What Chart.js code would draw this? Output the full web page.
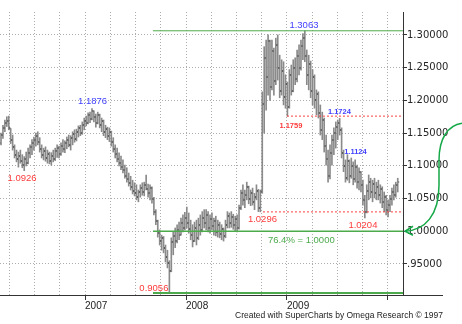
<!DOCTYPE html>
<html>
<head>
<meta charset="utf-8">
<script src="https://cdn.jsdelivr.net/npm/chart.js@4.4.1/dist/chart.umd.min.js"></script>
<style>
  html, body { margin: 0; padding: 0; background: #fff; }
  canvas { display: block; }
</style>
</head>
<body>
<canvas id="chart" width="462" height="324"></canvas>
<script>
// weekly bars, first bar in early March 2006 (fractional year)
const firstWeek = 2006.168;

const opens = [
  1.135, 1.147, 1.158, 1.165, 1.168, 1.157, 1.140, 1.128, 1.117, 1.110,
  1.115, 1.108, 1.101, 1.110, 1.104, 1.120, 1.128, 1.135, 1.140, 1.146,
  1.137, 1.126, 1.116, 1.122, 1.112, 1.118, 1.108, 1.115, 1.110, 1.122,
  1.127, 1.118, 1.131, 1.126, 1.135, 1.140, 1.132, 1.142, 1.148, 1.141,
  1.152, 1.157, 1.150, 1.163, 1.169, 1.165, 1.177, 1.171, 1.183, 1.174,
  1.165, 1.178, 1.162, 1.169, 1.151, 1.156, 1.146, 1.152, 1.136, 1.125,
  1.118, 1.110, 1.105, 1.098, 1.094, 1.085, 1.080, 1.073, 1.067, 1.062,
  1.058, 1.052, 1.060, 1.066, 1.060, 1.070, 1.065, 1.058, 1.066, 1.050,
  1.030, 1.015, 0.997, 0.985, 0.990, 0.975, 0.960, 0.952, 0.940, 0.983,
  0.992, 0.985, 1.002, 0.995, 1.012, 1.005, 1.020, 1.012, 1.003, 0.994,
  0.985, 1.005, 0.990, 1.010, 1.002, 1.020, 1.012, 1.025, 1.005, 1.018,
  1.008, 1.015, 0.999, 1.010, 0.996, 1.004, 0.992, 1.010, 1.024, 1.012,
  1.022, 1.010, 1.018, 1.005, 1.035, 1.058, 1.048, 1.055, 1.068, 1.050,
  1.058, 1.045, 1.052, 1.062, 1.035, 1.062, 1.195, 1.265, 1.235, 1.290,
  1.220, 1.275, 1.230, 1.285, 1.250, 1.215, 1.245, 1.205, 1.225, 1.190,
  1.238, 1.215, 1.250, 1.232, 1.268, 1.250, 1.283, 1.295, 1.268, 1.238,
  1.255, 1.215, 1.235, 1.200, 1.210, 1.180, 1.155, 1.170, 1.130, 1.110,
  1.085, 1.120, 1.140, 1.150, 1.160, 1.165, 1.155, 1.120, 1.100, 1.082,
  1.108, 1.085, 1.100, 1.080, 1.098, 1.075, 1.090, 1.070, 1.048, 1.030,
  1.062, 1.075, 1.060, 1.072, 1.058, 1.068, 1.055, 1.065, 1.045, 1.052,
  1.032, 1.040, 1.050, 1.060, 1.055, 1.070
];
const highs = [
  1.150, 1.162, 1.170, 1.175, 1.176, 1.157, 1.147, 1.132, 1.124, 1.121,
  1.124, 1.117, 1.114, 1.121, 1.127, 1.132, 1.140, 1.144, 1.150, 1.152,
  1.143, 1.132, 1.127, 1.129, 1.124, 1.121, 1.120, 1.124, 1.127, 1.132,
  1.130, 1.135, 1.140, 1.138, 1.144, 1.147, 1.146, 1.152, 1.155, 1.156,
  1.161, 1.162, 1.167, 1.173, 1.176, 1.181, 1.182, 1.1876, 1.184, 1.179,
  1.182, 1.179, 1.173, 1.170, 1.162, 1.159, 1.158, 1.153, 1.143, 1.132,
  1.127, 1.120, 1.115, 1.109, 1.101, 1.097, 1.089, 1.084, 1.078, 1.074,
  1.071, 1.063, 1.071, 1.074, 1.075, 1.086, 1.072, 1.071, 1.068, 1.052,
  1.033, 1.017, 1.002, 0.994, 0.992, 0.979, 0.971, 0.955, 0.990, 0.999,
  1.005, 1.010, 1.014, 1.020, 1.025, 1.029, 1.037, 1.028, 1.017, 1.010,
  1.014, 1.017, 1.020, 1.025, 1.030, 1.033, 1.033, 1.030, 1.025, 1.028,
  1.020, 1.023, 1.017, 1.014, 1.010, 1.005, 1.017, 1.030, 1.028, 1.030,
  1.026, 1.023, 1.025, 1.040, 1.063, 1.071, 1.063, 1.075, 1.069, 1.063,
  1.066, 1.058, 1.071, 1.064, 1.063, 1.213, 1.282, 1.292, 1.300, 1.292,
  1.292, 1.280, 1.295, 1.300, 1.269, 1.262, 1.259, 1.239, 1.228, 1.247,
  1.254, 1.262, 1.265, 1.277, 1.285, 1.292, 1.302, 1.3063, 1.277, 1.269,
  1.260, 1.247, 1.239, 1.216, 1.213, 1.193, 1.182, 1.173, 1.147, 1.124,
  1.132, 1.147, 1.158, 1.167, 1.170, 1.1724, 1.158, 1.124, 1.109, 1.117,
  1.109, 1.112, 1.106, 1.109, 1.101, 1.097, 1.091, 1.078, 1.055, 1.071,
  1.086, 1.081, 1.078, 1.081, 1.075, 1.078, 1.071, 1.068, 1.060, 1.055,
  1.048, 1.055, 1.066, 1.071, 1.075, 1.081
];
const lows = [
  1.132, 1.142, 1.152, 1.160, 1.155, 1.134, 1.124, 1.112, 1.106, 1.098,
  1.104, 1.097, 1.0926, 1.100, 1.103, 1.112, 1.117, 1.124, 1.130, 1.132,
  1.121, 1.112, 1.109, 1.107, 1.104, 1.103, 1.101, 1.106, 1.108, 1.113,
  1.112, 1.116, 1.121, 1.120, 1.126, 1.129, 1.124, 1.132, 1.136, 1.138,
  1.144, 1.146, 1.148, 1.155, 1.161, 1.164, 1.166, 1.170, 1.167, 1.159,
  1.164, 1.158, 1.152, 1.146, 1.143, 1.140, 1.137, 1.130, 1.121, 1.112,
  1.106, 1.100, 1.094, 1.089, 1.081, 1.075, 1.069, 1.063, 1.057, 1.054,
  1.048, 1.045, 1.052, 1.055, 1.054, 1.063, 1.052, 1.048, 1.043, 1.025,
  1.010, 0.991, 0.979, 0.971, 0.967, 0.953, 0.944, 0.9056, 0.938, 0.964,
  0.975, 0.982, 0.987, 0.994, 0.999, 1.002, 1.005, 0.997, 0.987, 0.976,
  0.984, 0.979, 0.987, 0.994, 0.999, 1.005, 1.002, 0.999, 0.997, 1.002,
  0.994, 0.993, 0.991, 0.990, 0.987, 0.985, 0.990, 1.005, 1.005, 1.006,
  1.003, 1.000, 0.999, 1.003, 1.033, 1.040, 1.036, 1.048, 1.042, 1.039,
  1.040, 1.033, 1.048, 1.030, 1.0296, 1.058, 1.150, 1.185, 1.208, 1.200,
  1.216, 1.208, 1.224, 1.231, 1.204, 1.208, 1.193, 1.188, 1.1759, 1.188,
  1.208, 1.213, 1.224, 1.228, 1.239, 1.246, 1.262, 1.259, 1.224, 1.216,
  1.204, 1.193, 1.188, 1.178, 1.173, 1.147, 1.140, 1.121, 1.101, 1.075,
  1.080, 1.101, 1.117, 1.127, 1.140, 1.147, 1.112, 1.091, 1.075, 1.078,
  1.074, 1.081, 1.071, 1.075, 1.066, 1.063, 1.060, 1.040, 1.0204, 1.028,
  1.048, 1.051, 1.045, 1.051, 1.048, 1.048, 1.043, 1.036, 1.030, 1.025,
  1.022, 1.030, 1.040, 1.048, 1.052, 1.060
];
const closes = [
  1.147, 1.158, 1.165, 1.168, 1.158, 1.140, 1.128, 1.117, 1.110, 1.115,
  1.108, 1.101, 1.110, 1.104, 1.120, 1.128, 1.135, 1.140, 1.146, 1.137,
  1.126, 1.116, 1.122, 1.112, 1.118, 1.108, 1.115, 1.110, 1.122, 1.127,
  1.118, 1.131, 1.126, 1.135, 1.140, 1.132, 1.142, 1.148, 1.141, 1.152,
  1.157, 1.150, 1.163, 1.169, 1.165, 1.177, 1.171, 1.183, 1.174, 1.165,
  1.178, 1.162, 1.169, 1.151, 1.156, 1.146, 1.152, 1.136, 1.125, 1.118,
  1.110, 1.105, 1.098, 1.094, 1.085, 1.080, 1.073, 1.067, 1.062, 1.058,
  1.052, 1.060, 1.066, 1.060, 1.070, 1.065, 1.058, 1.066, 1.050, 1.030,
  1.015, 0.997, 0.985, 0.990, 0.975, 0.960, 0.952, 0.940, 0.983, 0.992,
  0.985, 1.002, 0.995, 1.012, 1.005, 1.020, 1.012, 1.003, 0.994, 0.985,
  1.005, 0.990, 1.010, 1.002, 1.020, 1.012, 1.025, 1.005, 1.018, 1.008,
  1.015, 0.999, 1.010, 0.996, 1.004, 0.992, 1.010, 1.024, 1.012, 1.022,
  1.010, 1.018, 1.005, 1.035, 1.058, 1.048, 1.055, 1.068, 1.050, 1.058,
  1.045, 1.052, 1.062, 1.035, 1.060, 1.195, 1.265, 1.235, 1.290, 1.220,
  1.275, 1.230, 1.285, 1.250, 1.215, 1.245, 1.205, 1.225, 1.190, 1.238,
  1.215, 1.250, 1.232, 1.268, 1.250, 1.283, 1.295, 1.268, 1.238, 1.255,
  1.215, 1.235, 1.200, 1.210, 1.180, 1.155, 1.170, 1.130, 1.110, 1.085,
  1.120, 1.140, 1.150, 1.160, 1.165, 1.155, 1.120, 1.100, 1.082, 1.108,
  1.085, 1.100, 1.080, 1.098, 1.075, 1.090, 1.070, 1.048, 1.030, 1.062,
  1.075, 1.060, 1.072, 1.058, 1.068, 1.055, 1.065, 1.045, 1.052, 1.032,
  1.040, 1.050, 1.060, 1.055, 1.070, 1.076
];

const yTicks = [0.95, 1.00, 1.05, 1.10, 1.15, 1.20, 1.25, 1.30];
const quarterTicks = [
  2006.25, 2006.5, 2006.75, 2007, 2007.25, 2007.5, 2007.75, 2008,
  2008.25, 2008.5, 2008.75, 2009, 2009.25, 2009.5, 2009.75, 2010
];
const yearTicks = [2007, 2008, 2009, 2010];
const yearLabels = ['2007', '2008', '2009', ''];

const weekT = opens.map((_, i) => firstWeek + i * 7 / 365.25);

const BLUE = '#3f3fff';
const RED = '#ff3b3b';
const GREEN = '#4caa4c';
const BAR = '#8a8a8a';
const TICK = '#3c3c3c';
const NUM_FONT = '9.5px "Liberation Sans", Arial, sans-serif';
const SMALL_FONT = 'bold 7.5px "Liberation Sans", Arial, sans-serif';

// horizontal study lines: level, start (year), colour, width, dash
const levels = [
  { v: 1.3063, from: 2007.673, color: GREEN, w: 1, dash: [] },
  { v: 1.0000, from: 2007.673, color: GREEN, w: 1.5, dash: [] },
  { v: 0.9056, from: 2007.673, color: GREEN, w: 2, dash: [] },
  { v: 1.1759, from: 2009.000, color: RED, w: 1, dash: [2, 2] },
  { v: 1.0296, from: 2008.762, color: RED, w: 1, dash: [2, 2] }
];

const notes = [
  { text: '1.1876', t: 2007.074, v: 1.1876, dy: -4.5, color: BLUE, font: NUM_FONT, align: 'center' },
  { text: '1.0926', t: 2006.376, v: 1.0926, dy: 10.3, color: RED, font: NUM_FONT, align: 'center' },
  { text: '1.3063', t: 2009.168, v: 1.3063, dy: -2.5, color: BLUE, font: NUM_FONT, align: 'center' },
  { text: '1.1759', t: 2009.039, v: 1.1759, dy: 12, color: RED, font: SMALL_FONT, align: 'center' },
  { text: '1.1724', t: 2009.519, v: 1.1724, dy: -4.4, color: BLUE, font: SMALL_FONT, align: 'center' },
  { text: '1.1124', t: 2009.678, v: 1.1124, dy: -3.7, color: BLUE, font: SMALL_FONT, align: 'center' },
  { text: '1.0296', t: 2008.757, v: 1.0296, dy: 10, color: RED, font: NUM_FONT, align: 'center' },
  { text: '1.0204', t: 2009.752, v: 1.0204, dy: 10, color: RED, font: NUM_FONT, align: 'center' },
  { text: '76.4% = 1.0000', t: 2008.811, v: 1.0, dy: 11.7, color: GREEN, font: NUM_FONT, align: 'left' },
  { text: '0.9056', t: 2007.826, v: 0.9056, dy: -2, color: RED, font: NUM_FONT, align: 'right' }
];

const overlay = {
  id: 'overlay',
  afterDatasetsDraw(chart) {
    const { ctx, chartArea: a, scales: { x, y } } = chart;
    ctx.save();

    // open / close ticks
    ctx.fillStyle = TICK;
    weekT.forEach((t, i) => {
      const px = x.getPixelForValue(t);
      ctx.fillRect(px - 1.5, Math.round(y.getPixelForValue(opens[i])) - 0.5, 1, 1);
      ctx.fillRect(px + 0.5, Math.round(y.getPixelForValue(closes[i])) - 0.5, 1, 1);
    });

    // study lines
    levels.forEach(l => {
      const py = y.getPixelForValue(l.v);
      ctx.strokeStyle = l.color;
      ctx.lineWidth = l.w;
      ctx.setLineDash(l.dash);
      ctx.beginPath();
      ctx.moveTo(x.getPixelForValue(l.from), py);
      ctx.lineTo(a.right, py);
      ctx.stroke();
    });
    ctx.setLineDash([]);

    // value notes
    ctx.textBaseline = 'alphabetic';
    notes.forEach(n => {
      ctx.font = n.font;
      ctx.fillStyle = n.color;
      ctx.textAlign = n.align;
      ctx.fillText(n.text, x.getPixelForValue(n.t), y.getPixelForValue(n.v) + n.dy);
    });

    // x axis runs on past the price axis
    ctx.strokeStyle = '#333';
    ctx.lineWidth = 1;
    ctx.beginPath();
    ctx.moveTo(a.right, a.bottom + 0.5);
    ctx.lineTo(a.right + 40, a.bottom + 0.5);
    ctx.stroke();

    // green bracket arrow pointing at 1.0000
    const tx = a.right + 2, ty = y.getPixelForValue(1.0);
    ctx.strokeStyle = '#14a846';
    ctx.lineWidth = 1.5;
    ctx.beginPath();
    ctx.moveTo(chart.width, ty - 108);
    ctx.bezierCurveTo(tx + 43, ty - 106, tx + 34, ty - 93, tx + 34, ty - 71);
    ctx.lineTo(tx + 34, ty - 46);
    ctx.bezierCurveTo(tx + 34, ty - 16, tx + 20, ty - 1, tx, ty);
    ctx.stroke();
    ctx.beginPath();
    ctx.moveTo(tx + 8, ty - 5);
    ctx.lineTo(tx, ty);
    ctx.lineTo(tx + 8, ty + 4);
    ctx.stroke();

    // credit line
    ctx.font = '8.5px "Liberation Sans", Arial, sans-serif';
    ctx.fillStyle = '#222';
    ctx.textAlign = 'left';
    ctx.fillText('Created with SuperCharts by Omega Research \u00a9 1997', 235, 318);

    ctx.restore();
  }
};

new Chart(document.getElementById('chart'), {
  type: 'bar',
  data: {
    datasets: [{
      data: weekT.map((t, i) => ({ x: t, y: [lows[i], highs[i]] })),
      backgroundColor: BAR,
      borderWidth: 0,
      barThickness: 1,
      grouped: false
    }]
  },
  options: {
    responsive: false,
    animation: false,
    devicePixelRatio: 1,
    layout: { padding: { top: 12, left: 0, right: 0, bottom: 0 } },
    plugins: { legend: { display: false }, tooltip: { enabled: false } },
    scales: {
      x: {
        type: 'linear',
        min: 2006.158,
        max: 2010.149,
        offset: false,
        afterBuildTicks: s => { s.ticks = quarterTicks.map(v => ({ value: v })); },
        afterFit: s => { s.height = 29; },
        ticks: {
          autoSkip: false,
          maxRotation: 0,
          align: 'start',
          padding: 0,
          color: '#222',
          font: { family: '"Liberation Sans", Arial, sans-serif', size: 10 },
          callback: v => {
            const k = yearTicks.indexOf(v);
            return k >= 0 ? yearLabels[k] : '';
          }
        },
        grid: {
          offset: false,
          color: '#adadad',
          lineWidth: 1,
          tickLength: 5,
          tickColor: c => (c.tick && yearTicks.includes(c.tick.value)) ? '#333' : 'rgba(0,0,0,0)'
        },
        border: { color: '#333', width: 1, dash: [1, 2] }
      },
      y: {
        position: 'right',
        min: 0.9026,
        max: 1.335,
        afterBuildTicks: s => { s.ticks = yTicks.map(v => ({ value: v })); },
        afterFit: s => { s.width = 59; },
        ticks: {
          padding: 0,
          color: '#262626',
          font: { family: '"DejaVu Sans", sans-serif', size: 10 },
          callback: v => v < 1 ? v.toFixed(5).slice(1) : v.toFixed(5)
        },
        grid: {
          color: '#adadad',
          lineWidth: 1,
          tickLength: 4,
          tickColor: '#333'
        },
        border: { color: '#333', width: 1, dash: [1, 2] }
      }
    }
  },
  plugins: [overlay]
});
</script>
</body>
</html>
